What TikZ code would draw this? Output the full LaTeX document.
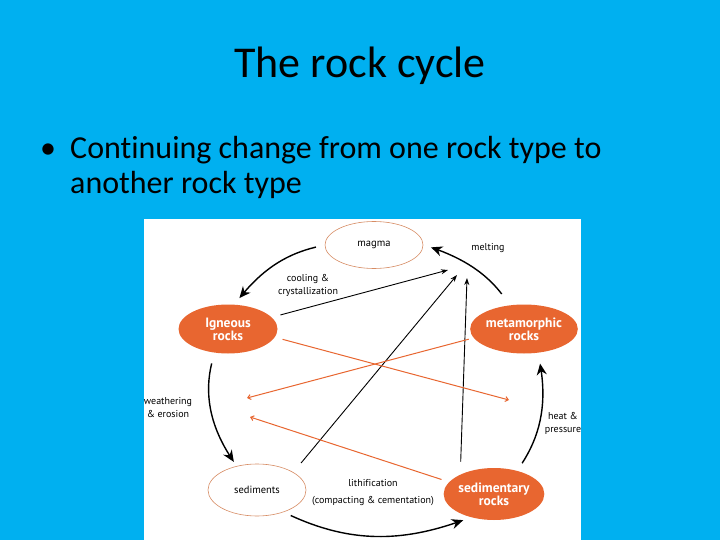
\documentclass[tikz,border=0pt]{standalone}
\usepackage{fontspec}
\setmainfont{Carlito}[Ligatures=NoCommon]
\newfontfamily\diag{PT Sans}[Ligatures=NoCommon]
\usetikzlibrary{shapes.geometric,arrows.meta,bending}

\definecolor{slideblue}{RGB}{0,176,240}
\definecolor{rockorange}{RGB}{232,102,48}
\definecolor{rim}{RGB}{215,140,100}

\begin{document}
\begin{tikzpicture}[x=1pt,y=-1pt,
  rock/.style={ellipse, fill=rockorange, minimum width=99pt, minimum height=49pt, inner sep=0pt, text=white, font=\diag\bfseries\fontsize{13.5}{13}\selectfont, align=center},
  loose/.style={ellipse, draw=rim, line width=0.6pt, fill=white, minimum width=98pt, minimum height=47pt, inner sep=0pt, font=\diag\fontsize{10.5}{12}\selectfont},
  lbl/.style={font=\diag\fontsize{10}{13}\selectfont, align=center, inner sep=0pt},
  cyc/.style={line width=1.4pt, -{Stealth[length=12pt,width=10pt,bend]}},
  thinarr/.style={line width=0.9pt, -{Stealth[length=7pt,width=5pt]}},
  ora/.style={draw=rockorange, line width=1pt, -{Straight Barb[length=3pt,width=5pt]}}
]
\fill[slideblue] (0,0) rectangle (720,540);
\useasboundingbox (0,0) rectangle (720,540);
\fill[white] (144,219) rectangle (581,540);

\node[anchor=base, font=\fontsize{44}{52}\selectfont] (title) at (360,78) {The rock cycle};
\node[anchor=base, font=\fontsize{32}{38}\selectfont] (dot) at (48,159) {•};
\node[anchor=base west, inner sep=0pt, font=\fontsize{32}{38}\selectfont] (b1) at (70,159) {Continuing change from one rock type to};
\node[anchor=base west, inner sep=0pt, font=\fontsize{32}{38}\selectfont] (b2) at (70,194) {another rock type};

\node[loose] (mag) at (374,245) {magma};
\node[rock] (ign) at (228,329) {Igneous\\rocks};
\node[rock, minimum width=100pt] (met) at (524,329) {metamorphic\\rocks};
\node[loose, minimum height=52pt] (sed) at (257,490) {sediments};
\node[rock, minimum height=52pt] (sdr) at (494,494) {sedimentary\\rocks};

\begin{scope}
\clip (144,219) rectangle (581,540);
\node[lbl] (melt) at (488,248) {melting};
\node[lbl] (cool) at (308,285) {cooling \&\\crystallization};
\node[lbl] (weath) at (168,408) {weathering\\\& erosion};
\node[lbl] (heat) at (563,423) {heat \&\\pressure};
\node[lbl] (lith) at (373,483) {lithification};
\node[lbl] (comp) at (373,501) {(compacting \& cementation)};
\end{scope}

\coordinate (t6) at (448,270);
\coordinate (t7) at (457,275);
\coordinate (t8) at (467,278);
\coordinate (t9) at (509,400);
\coordinate (t10) at (247,398);
\coordinate (t11) at (250,417);

\draw[cyc, shorten <=9pt, shorten >=8pt] (mag.west) to[bend right=20] (ign.75);
\draw[cyc, shorten <=11pt, shorten >=5pt] (ign.240) to[bend right=25] (sed.130);
\draw[cyc, shorten <=8pt, shorten >=8pt] (sed.-40) to[bend right=23] (sdr.225);
\draw[cyc, shorten <=9pt, shorten >=11pt] (sdr.45) to[bend right=23] (met.-60);
\draw[cyc, shorten <=14pt, shorten >=8pt] (met.120) to[bend right=18] (mag.east);

\draw[thinarr, shorten <=9pt] (ign.15) -- (t6);
\draw[thinarr, shorten <=12pt] (sed.26) -- (t7);
\draw[thinarr, shorten <=13pt] (sdr.150) -- (t8);

\draw[ora, shorten <=8pt] (ign.-10) -- (t9);
\draw[ora, shorten <=5pt] (met.190) -- (t10);
\draw[ora, shorten <=8pt] (sdr.165) -- (t11);
\end{tikzpicture}
\end{document}
